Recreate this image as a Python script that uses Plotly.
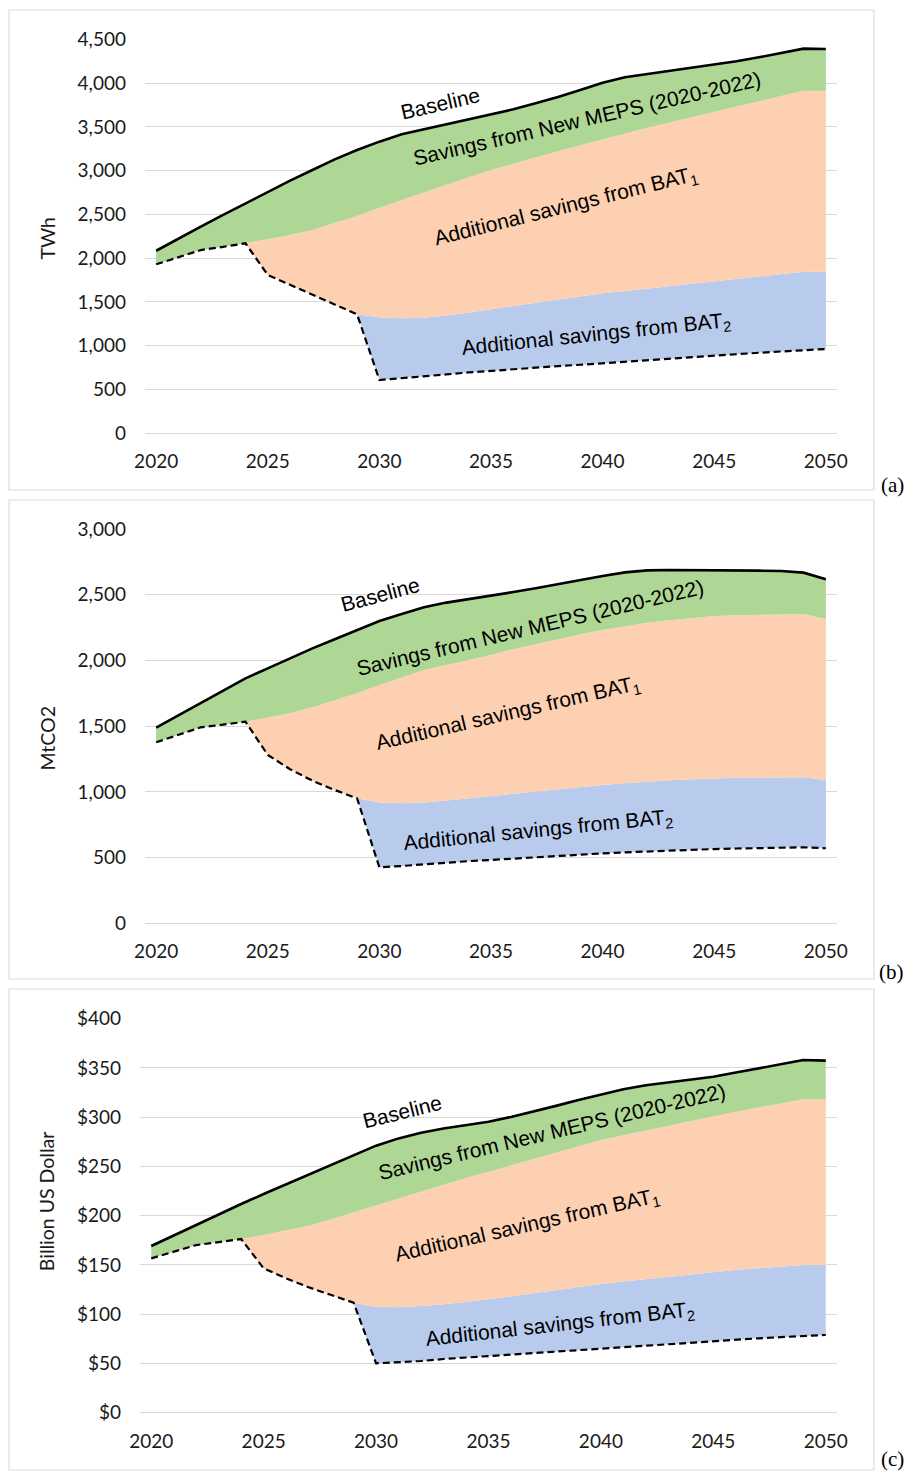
import plotly.graph_objects as go

years = list(range(2020, 2051))
tick_years = [2020, 2025, 2030, 2035, 2040, 2045, 2050]

# ---- (a) Electricity consumption, TWh ----
twh_baseline = [2085, 2225, 2360, 2495, 2627, 2760, 2885, 3007, 3129, 3236,
                3331, 3415, 3472, 3525, 3578, 3635, 3700, 3769, 3840, 3920,
                4004, 4066, 4103, 4140, 4172, 4206, 4250, 4294, 4345, 4393, 4389]
twh_meps = [1930, 2010, 2093, 2130, 2170, 2216, 2265, 2322, 2405, 2482,
            2577, 2665, 2750, 2840, 2925, 3007, 3080, 3150, 3220, 3290,
            3358, 3425, 3490, 3550, 3612, 3673, 3733, 3793, 3853, 3913, 3913]
twh_bat1 = [1930, 2010, 2093, 2130, 2170, 1808, 1694, 1580, 1466, 1359,
            1325, 1313, 1320, 1345, 1380, 1416, 1455, 1492, 1530, 1565,
            1599, 1626, 1653, 1680, 1706, 1732, 1760, 1790, 1818, 1846, 1846]
twh_bat2 = [1930, 2010, 2093, 2130, 2170, 1808, 1694, 1580, 1466, 1359,
            609, 628, 647, 672, 695, 715, 733, 750, 767, 783,
            799, 817, 835, 852, 869, 886, 903, 920, 936, 951, 963]

# ---- (b) Emissions, MtCO2 ----
co2_baseline = [1488, 1582, 1674, 1770, 1864, 1940, 2016, 2092, 2161, 2232,
                2300, 2353, 2404, 2440, 2465, 2490, 2520, 2549, 2582, 2615,
                2643, 2670, 2685, 2688, 2688, 2688, 2686, 2683, 2680, 2668, 2617]
co2_meps = [1377, 1435, 1491, 1512, 1534, 1565, 1598, 1643, 1694, 1750,
            1813, 1872, 1927, 1965, 2003, 2041, 2085, 2125, 2165, 2200,
            2232, 2262, 2287, 2305, 2322, 2338, 2344, 2348, 2350, 2353, 2315]
co2_bat1 = [1377, 1435, 1491, 1512, 1534, 1281, 1172, 1085, 1014, 951,
            920, 913, 920, 935, 952, 969, 987, 1005, 1022, 1038,
            1052, 1066, 1078, 1088, 1096, 1103, 1107, 1110, 1112, 1111, 1090]
co2_bat2 = [1377, 1435, 1491, 1512, 1534, 1281, 1172, 1085, 1014, 951,
            426, 436, 449, 462, 473, 482, 493, 503, 513, 523,
            532, 540, 547, 554, 560, 565, 569, 573, 576, 578, 571]

# ---- (c) Electricity bill, billion US dollar ----
usd_baseline = [169.2, 180.0, 190.5, 201.2, 211.9, 222.0, 231.8, 241.3, 251.5, 261.6,
                271.1, 278.5, 284.3, 288.5, 292.0, 295.4, 300.3, 305.6, 311.5, 317.4,
                323.2, 328.3, 332.5, 335.5, 338.3, 341.1, 345.3, 349.6, 353.8, 358.0, 357.4]
usd_meps = [156.7, 163.5, 170.2, 173.2, 176.3, 180.4, 184.8, 189.8, 196.3, 203.4,
            210.8, 217.6, 224.4, 231.5, 238.2, 244.7, 251.3, 257.8, 264.3, 270.6,
            276.8, 281.8, 286.6, 291.5, 296.4, 301.2, 305.5, 309.8, 314.0, 318.1, 318.0]
usd_bat1 = [156.7, 163.5, 170.2, 173.2, 176.3, 146.5, 136.4, 127.3, 119.5, 111.7,
            107.6, 107.0, 108.3, 110.0, 112.5, 115.0, 118.2, 121.3, 124.5, 127.6,
            130.6, 133.2, 135.7, 138.2, 140.7, 143.2, 145.0, 146.7, 148.4, 150.0, 150.0]
usd_bat2 = [156.7, 163.5, 170.2, 173.2, 176.3, 146.5, 136.4, 127.3, 119.5, 111.7,
            50.1, 51.1, 52.5, 54.5, 56.0, 57.5, 59.1, 60.7, 62.2, 63.8,
            65.3, 66.9, 68.5, 70.0, 71.6, 73.1, 74.3, 75.5, 76.7, 77.9, 78.9]

label_baseline = "Baseline"
label_meps = "Savings from New MEPS (2020-2022)"
label_bat1 = "Additional savings from BAT<sub>1</sub>"
label_bat2 = "Additional savings from BAT<sub>2</sub>"

GREEN = "#AED694"
ORANGE = "#FDD0B1"
BLUE = "#B8CBEC"
GRID = "#D9D9D9"

W, H = 907, 1474


def px_x(p):
    return p / W


def px_y(p):
    return 1 - p / H


panels = [
    dict(x="x", y="y", data=(twh_baseline, twh_meps, twh_bat1, twh_bat2)),
    dict(x="x2", y="y2", data=(co2_baseline, co2_meps, co2_bat1, co2_bat2)),
    dict(x="x3", y="y3", data=(usd_baseline, usd_meps, usd_bat1, usd_bat2)),
]

fig = go.Figure()
for p in panels:
    base, meps, bat1, bat2 = p["data"]
    common = dict(x=years, mode="lines", xaxis=p["x"], yaxis=p["y"],
                  hoverinfo="skip", showlegend=False)
    fig.add_trace(go.Scatter(y=bat2, line=dict(width=0, color=BLUE), **common))
    fig.add_trace(go.Scatter(y=bat1, fill="tonexty", fillcolor=BLUE,
                             line=dict(width=0, color=BLUE), **common))
    fig.add_trace(go.Scatter(y=meps, fill="tonexty", fillcolor=ORANGE,
                             line=dict(width=0, color=ORANGE), **common))
    fig.add_trace(go.Scatter(y=base, fill="tonexty", fillcolor=GREEN,
                             line=dict(width=0, color=GREEN), **common))
    fig.add_trace(go.Scatter(y=bat2, line=dict(width=2.2, color="black", dash="7px,4px"),
                             **common))
    fig.add_trace(go.Scatter(y=base, line=dict(width=2.6, color="black"), **common))

tick_font = dict(family="Lato, Carlito, sans-serif", size=19, color="#1A1A1A")

xcommon = dict(range=[2019.5, 2050.5], tickmode="array", tickvals=tick_years,
               showgrid=False, zeroline=False, showline=False, ticks="",
               tickfont=tick_font, ticklabelstandoff=15, fixedrange=True,
               automargin=False)
ycommon = dict(showgrid=True, gridcolor=GRID, gridwidth=1.4, zeroline=True,
               zerolinecolor=GRID, zerolinewidth=1.4, showline=False, ticks="",
               tickfont=tick_font, ticklabelstandoff=18, fixedrange=True,
               automargin=False)

fig.update_layout(
    width=W, height=H,
    margin=dict(l=0, r=0, t=0, b=0, autoexpand=False),
    paper_bgcolor="white", plot_bgcolor="white",
    showlegend=False,
    xaxis=dict(domain=[px_x(145), px_x(837)], anchor="y", **xcommon),
    yaxis=dict(domain=[px_y(433.3), px_y(39.3)], anchor="x", range=[0, 4500],
               dtick=500, tickformat=",", **ycommon),
    xaxis2=dict(domain=[px_x(145), px_x(837)], anchor="y2", **xcommon),
    yaxis2=dict(domain=[px_y(923.3), px_y(529)], anchor="x2", range=[0, 3000],
                dtick=500, tickformat=",", **ycommon),
    xaxis3=dict(domain=[px_x(140), px_x(837)], anchor="y3", **xcommon),
    yaxis3=dict(domain=[px_y(1412.7), px_y(1018.7)], anchor="x3", range=[0, 400],
                dtick=50, tickprefix="$", **ycommon),
)

# panel frames
for top, bottom in [(10, 490), (500, 979), (989, 1470)]:
    fig.add_shape(type="rect", xref="paper", yref="paper",
                  x0=px_x(9), x1=px_x(874), y0=px_y(bottom), y1=px_y(top),
                  line=dict(color="#DDDDDD", width=1.2), layer="below")

title_font = dict(family="Lato, Carlito, sans-serif", size=19.5, color="#1A1A1A")
for text, cy in [("TWh", 238), ("MtCO2", 738), ("Billion US Dollar", 1201.7)]:
    fig.add_annotation(text=text, xref="paper", yref="paper", x=px_x(46.5), y=px_y(cy),
                       textangle=-90, showarrow=False, font=title_font,
                       xanchor="center", yanchor="middle")

serif_font = dict(family="Liberation Serif, Times New Roman, serif", size=21, color="black")
for text, cy in [("(a)", 485), ("(b)", 972), ("(c)", 1459)]:
    fig.add_annotation(text=text, xref="paper", yref="paper", x=px_x(906), y=px_y(cy),
                       showarrow=False, font=serif_font, xanchor="right", yanchor="middle")

label_font = dict(family="Liberation Sans, Arial, sans-serif", size=21, color="black")
# (x, y, angle) of each area label, in data units of its panel
label_positions = [
    ("x", "y", [(label_baseline, 2032.72, 3767, -13),
                (label_meps, 2039.28, 3590, -13),
                (label_bat1, 2038.34, 2579, -14),
                (label_bat2, 2039.70, 1127, -6)]),
    ("x2", "y2", [(label_baseline, 2030.03, 2502, -15),
                  (label_meps, 2036.75, 2254, -13.4),
                  (label_bat1, 2035.74, 1590, -13),
                  (label_bat2, 2037.09, 704, -5.7)]),
    ("x3", "y3", [(label_baseline, 2031.18, 305.5, -14),
                  (label_meps, 2037.84, 285, -13.4),
                  (label_bat1, 2036.69, 190, -12.8),
                  (label_bat2, 2038.19, 89, -6.4)]),
]
for xr, yr, items in label_positions:
    for text, lx, ly, ang in items:
        fig.add_annotation(text=text, xref=xr, yref=yr, x=lx, y=ly, textangle=ang,
                           showarrow=False, font=label_font,
                           xanchor="center", yanchor="middle")

fig.write_html("out.html")
